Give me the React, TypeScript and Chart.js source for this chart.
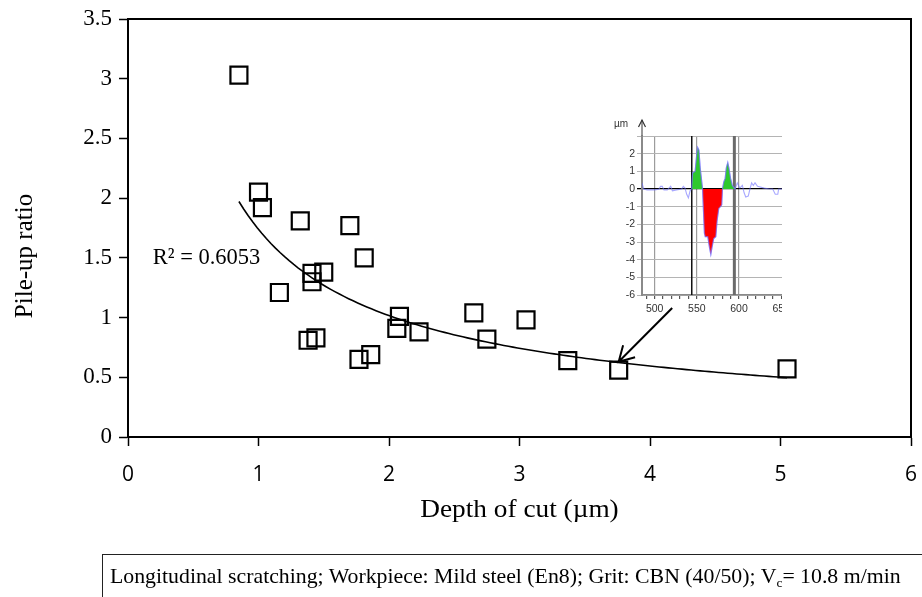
import React, { useEffect, useRef } from 'react';
import { Chart, registerables } from 'chart.js';

Chart.register(...registerables);

// ---- Main chart data ----
const depthOfCut = [0.85, 1.0, 1.03, 1.16, 1.32, 1.41, 1.41, 1.5, 1.38, 1.44, 1.7, 1.81, 1.77, 1.86, 2.06, 2.08, 2.23, 2.65, 2.75, 3.05, 3.37, 3.76, 5.05];
const pileUpRatio = [3.03, 2.05, 1.92, 1.21, 1.81, 1.37, 1.3, 1.38, 0.81, 0.83, 1.77, 1.5, 0.65, 0.69, 0.91, 1.01, 0.88, 1.04, 0.82, 0.98, 0.64, 0.56, 0.57];
const xTicks = [0, 1, 2, 3, 4, 5, 6];
const yTicks = [0, 0.5, 1, 1.5, 2, 2.5, 3, 3.5];
const xTitle = 'Depth of cut (\u00b5m)';
const yTitle = 'Pile-up ratio';
const r2Label = 'R\u00b2 = 0.6053';
const r2LabelAt = [0.19, 1.5];
const arrowFrom = [4.17, 1.08];
const arrowTo = [3.76, 0.63];

// ---- Inset (surface profile) data ----
const profileX = [485, 487, 491, 500, 505, 507, 509, 511, 515, 519, 521, 526, 532, 534, 536, 538, 540, 542, 544, 545, 548, 550, 551, 552.5, 554, 556.8, 557.5, 559, 560, 563, 565, 566.6, 568, 570, 572.5, 574, 576, 578, 579.5, 580.4, 582, 583.6, 585, 586.7, 588, 590, 592, 595.4, 598, 601, 604, 606, 608, 611, 613, 615, 617, 619, 622, 630, 636, 640, 643, 646, 647, 651];
const profileY = [0.35, 0.0, -0.05, -0.05, -0.02, 0.15, 0.15, -0.05, -0.05, 0.15, -0.1, -0.05, 0.0, 0.15, 0.05, -0.3, -0.5, -0.1, 0.0, 0.9, 1.0, 2.0, 2.35, 2.2, 1.2, 0.0, -0.8, -2.5, -2.7, -2.7, -3.3, -3.7, -3.3, -2.8, -2.7, -1.8, -1.1, -1.0, -0.9, 0.0, 0.4, 0.6, 1.2, 1.5, 1.2, 0.6, 0.2, 0.0, 0.35, 0.05, 0.2, -0.2, -0.45, -0.4, 0.0, 0.35, 0.2, 0.35, 0.15, 0.05, 0.0, 0.0, -0.3, -0.3, 0.0, 0.0];
const fillRange = [544, 595.4];
const insetXTicks = [490, 500, 510, 520, 530, 540, 550, 560, 570, 580, 590, 600, 610, 620, 630, 640, 650];
const insetYTicks = [-6, -5, -4, -3, -2, -1, 0, 1, 2, 3];
const cursorLines = [544, 594.5];
const insetUnit = '\u00b5m';

const SERIF = '"Liberation Serif", "Times New Roman", serif';
const SANS = '"Liberation Sans", Arial, sans-serif';

function powerFit(xs: number[], ys: number[]) {
  const lx = xs.map(Math.log);
  const ly = ys.map(Math.log);
  const n = xs.length;
  const mx = lx.reduce((s, v) => s + v, 0) / n;
  const my = ly.reduce((s, v) => s + v, 0) / n;
  let sxy = 0;
  let sxx = 0;
  for (let i = 0; i < n; i++) {
    sxy += (lx[i] - mx) * (ly[i] - my);
    sxx += (lx[i] - mx) * (lx[i] - mx);
  }
  const b = sxy / sxx;
  const a = Math.exp(my - b * mx);
  return { a, b };
}

function trendPoints() {
  const { a, b } = powerFit(depthOfCut, pileUpRatio);
  const lo = Math.min(...depthOfCut);
  const hi = Math.max(...depthOfCut);
  const pts: { x: number; y: number }[] = [];
  const n = 120;
  for (let i = 0; i <= n; i++) {
    const x = lo + ((hi - lo) * i) / n;
    pts.push({ x, y: a * Math.pow(x, b) });
  }
  return pts;
}

const mainOverlay = {
  id: 'mainOverlay',
  afterDraw(chart: any) {
    const { ctx, chartArea: ca, scales } = chart;
    const sx = scales.x;
    const sy = scales.y;
    ctx.save();
    // top and right frame
    ctx.strokeStyle = '#000';
    ctx.lineWidth = 2;
    ctx.beginPath();
    ctx.moveTo(ca.left, ca.top);
    ctx.lineTo(ca.right, ca.top);
    ctx.lineTo(ca.right, ca.bottom);
    ctx.stroke();

    // R² label
    ctx.fillStyle = '#000';
    ctx.font = '22.5px ' + SERIF;
    ctx.textAlign = 'left';
    ctx.textBaseline = 'middle';
    ctx.fillText(r2Label, sx.getPixelForValue(r2LabelAt[0]), sy.getPixelForValue(r2LabelAt[1]));

    // arrow
    const x0 = sx.getPixelForValue(arrowFrom[0]);
    const y0 = sy.getPixelForValue(arrowFrom[1]);
    const x1 = sx.getPixelForValue(arrowTo[0]);
    const y1 = sy.getPixelForValue(arrowTo[1]);
    ctx.lineWidth = 2;
    ctx.beginPath();
    ctx.moveTo(x0, y0);
    ctx.lineTo(x1, y1);
    const ang = Math.atan2(y0 - y1, x0 - x1);
    const L = 17;
    ctx.moveTo(x1 + L * Math.cos(ang + 0.52), y1 + L * Math.sin(ang + 0.52));
    ctx.lineTo(x1, y1);
    ctx.lineTo(x1 + L * Math.cos(ang - 0.52), y1 + L * Math.sin(ang - 0.52));
    ctx.stroke();

    // axis titles
    ctx.font = '26px ' + SERIF;
    ctx.textAlign = 'center';
    ctx.textBaseline = 'middle';
    ctx.save();
    ctx.translate((ca.left + ca.right) / 2, 510);
    ctx.scale(1.05, 1);
    ctx.fillText(xTitle, 0, 0);
    ctx.restore();
    ctx.font = '25px ' + SERIF;
    ctx.translate(25, 256);
    ctx.rotate(-Math.PI / 2);
    ctx.fillText(yTitle, 0, 0);
    ctx.restore();
  },
};

const insetOverlay = {
  id: 'insetOverlay',
  beforeDatasetsDraw(chart: any) {
    const { ctx, chartArea: ca, scales } = chart;
    const sx = scales.x;
    ctx.save();
    cursorLines.forEach((v, i) => {
      const px = sx.getPixelForValue(v);
      ctx.strokeStyle = i === 0 ? '#111' : '#6a6a6a';
      ctx.lineWidth = i === 0 ? 1.5 : 3;
      ctx.beginPath();
      ctx.moveTo(px, ca.top);
      ctx.lineTo(px, ca.bottom);
      ctx.stroke();
    });
    ctx.restore();
  },
  afterDraw(chart: any) {
    const { ctx, chartArea: ca } = chart;
    ctx.save();
    const ax = ca.left;
    ctx.strokeStyle = '#777';
    ctx.lineWidth = 1.5;
    ctx.beginPath();
    ctx.moveTo(ax, ca.top);
    ctx.lineTo(ax, ca.top - 16);
    ctx.stroke();
    ctx.strokeStyle = '#333';
    ctx.lineWidth = 1.2;
    ctx.beginPath();
    ctx.moveTo(ax - 3.5, ca.top - 9);
    ctx.lineTo(ax, ca.top - 16);
    ctx.lineTo(ax + 3.5, ca.top - 9);
    ctx.stroke();
    ctx.fillStyle = '#333';
    ctx.font = '10px ' + SANS;
    ctx.textAlign = 'center';
    ctx.textBaseline = 'middle';
    ctx.fillText(insetUnit, ax - 21, ca.top - 12);
    ctx.restore();
  },
};

function MainChart() {
  const ref = useRef<HTMLCanvasElement | null>(null);
  useEffect(() => {
    if (!ref.current) return;
    const points = depthOfCut.map((x, i) => ({ x, y: pileUpRatio[i] }));
    const chart = new Chart(ref.current, {
      type: 'scatter',
      data: {
        datasets: [
          {
            label: 'Pile-up ratio',
            data: points,
            pointStyle: 'rect',
            pointRadius: 12,
            pointHoverRadius: 12,
            pointBorderWidth: 2.2,
            borderColor: '#000',
            backgroundColor: 'rgba(0,0,0,0)',
          } as any,
          {
            label: 'Power trend',
            type: 'line',
            data: trendPoints(),
            borderColor: '#000',
            borderWidth: 1.6,
            pointRadius: 0,
            fill: false,
            tension: 0,
          } as any,
        ],
      },
      options: {
        animation: false,
        responsive: false,
        events: [],
        layout: { autoPadding: false, padding: { top: 19, right: 11, left: 0, bottom: 0 } },
        plugins: { legend: { display: false }, tooltip: { enabled: false } },
        scales: {
          x: {
            type: 'linear',
            min: 0,
            max: 6,
            afterBuildTicks: (s: any) => {
              s.ticks = xTicks.map((v) => ({ value: v }));
            },
            afterFit: (s: any) => {
              s.height = 160;
              s.paddingLeft = 0;
              s.paddingRight = 0;
            },
            ticks: {
              padding: 16,
              color: '#000',
              font: { family: '"Open Sans", sans-serif', size: 21 },
              maxRotation: 0,
              callback: (v: any) => String(v),
            },
            grid: { drawOnChartArea: false, drawTicks: true, tickLength: 9, tickWidth: 1.5, tickColor: '#000' },
            border: { display: true, color: '#000', width: 2 },
          },
          y: {
            type: 'linear',
            min: 0,
            max: 3.5,
            afterBuildTicks: (s: any) => {
              s.ticks = yTicks.map((v) => ({ value: v }));
            },
            afterFit: (s: any) => {
              s.width = 128;
              s.paddingTop = 0;
              s.paddingBottom = 0;
            },
            ticks: {
              padding: 7,
              color: '#000',
              font: { family: SERIF, size: 23 },
              callback: (v: any) => String(v),
            },
            grid: { drawOnChartArea: false, drawTicks: true, tickLength: 9, tickWidth: 1.5, tickColor: '#000' },
            border: { display: true, color: '#000', width: 2 },
          },
        },
      } as any,
      plugins: [mainOverlay],
    });
    return () => chart.destroy();
  }, []);
  return <canvas ref={ref} width={922} height={597} style={{ position: 'absolute', left: 0, top: 0 }} />;
}

function InsetChart() {
  const ref = useRef<HTMLCanvasElement | null>(null);
  useEffect(() => {
    if (!ref.current) return;
    const profile = profileX.map((x, i) => ({ x, y: profileY[i] }));
    const filled = profile.filter((p) => p.x >= fillRange[0] && p.x <= fillRange[1]);
    const chart = new Chart(ref.current, {
      type: 'line',
      data: {
        datasets: [
          {
            label: 'groove',
            data: filled,
            borderColor: 'rgba(120,110,255,0.6)',
            borderWidth: 1.2,
            pointRadius: 0,
            tension: 0,
            fill: { target: { value: 0 }, above: '#2ec82e', below: '#ff0000' },
          } as any,
          {
            label: 'profile',
            data: profile,
            borderColor: 'rgba(110,110,255,0.6)',
            borderWidth: 1.1,
            pointRadius: 0,
            tension: 0,
            fill: false,
          } as any,
        ],
      },
      options: {
        animation: false,
        responsive: false,
        events: [],
        layout: { autoPadding: false, padding: { top: 24, right: 0, left: 0, bottom: 0 } },
        plugins: { legend: { display: false }, tooltip: { enabled: false } },
        scales: {
          x: {
            type: 'linear',
            min: 485,
            max: 651,
            afterBuildTicks: (s: any) => {
              s.ticks = insetXTicks.map((v) => ({ value: v }));
            },
            afterFit: (s: any) => {
              s.height = 25;
              s.paddingLeft = 0;
              s.paddingRight = 0;
            },
            ticks: {
              autoSkip: false,
              maxRotation: 0,
              padding: 4,
              color: '#333',
              font: { family: SANS, size: 10.5 },
              callback: (v: any) => (Number(v) % 50 === 0 ? String(v) : ''),
            },
            grid: {
              color: (c: any) => (c.tick && c.tick.value % 50 === 0 && c.tick.value < 650 ? '#9c9c9c' : 'rgba(0,0,0,0)'),
              tickColor: '#555',
              tickLength: 4,
              lineWidth: 1.2,
            },
            border: { display: true, color: '#8a8a8a', width: 1.5 },
          },
          y: {
            type: 'linear',
            min: -6,
            max: 3,
            afterBuildTicks: (s: any) => {
              s.ticks = insetYTicks.map((v) => ({ value: v }));
            },
            afterFit: (s: any) => {
              s.width = 52;
            },
            ticks: {
              padding: 2,
              color: '#333',
              font: { family: SANS, size: 10.5 },
              callback: (v: any) => (Number(v) === 3 ? '' : String(v)),
            },
            grid: {
              color: (c: any) => (c.tick && c.tick.value === 0 ? '#000' : '#b4b4b4'),
              lineWidth: (c: any) => (c.tick && c.tick.value === 0 ? 1.3 : 1),
              tickLength: 5,
            },
            border: { display: true, color: '#8a8a8a', width: 2 },
          },
        },
      } as any,
      plugins: [insetOverlay],
    });
    return () => chart.destroy();
  }, []);
  return <canvas ref={ref} width={192} height={208} style={{ position: 'absolute', left: 590, top: 112 }} />;
}

export default function App() {
  return (
    <div style={{ position: 'absolute', left: 0, top: 0, width: 922, height: 597, overflow: 'hidden', background: '#fff' }}>
      <MainChart />
      <InsetChart />
      <div
        style={{
          position: 'absolute',
          left: 102,
          top: 554,
          width: 860,
          height: 60,
          border: '1.5px solid #222',
          boxSizing: 'border-box',
          paddingLeft: 7,
          paddingTop: 8,
          fontFamily: SERIF,
          fontSize: 21.8,
          lineHeight: '26px',
          color: '#000',
          whiteSpace: 'nowrap',
        }}
      >
        Longitudinal scratching; Workpiece: Mild steel (En8); Grit: CBN (40/50); V
        <sub style={{ fontSize: '0.62em', verticalAlign: '-0.3em', lineHeight: 0 }}>c</sub>= 10.8 m/min
      </div>
    </div>
  );
}
